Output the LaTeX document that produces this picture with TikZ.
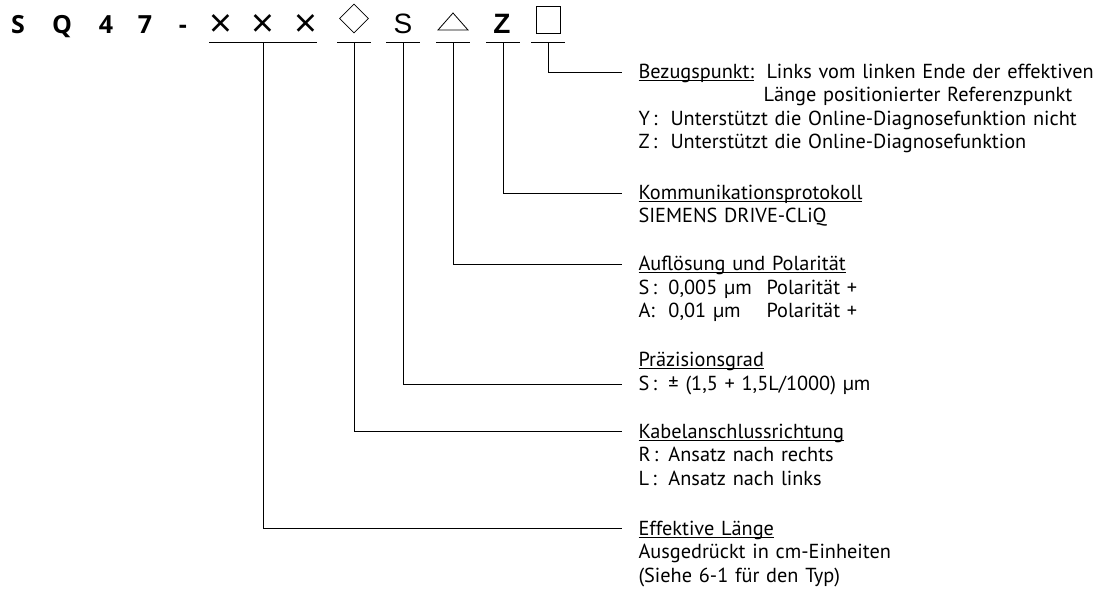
\documentclass[tikz,border=0pt]{standalone}
\usepackage{fontspec}
\usetikzlibrary{shapes.geometric}
\setmainfont{PT Sans}
\newfontfamily\codefont{Open Sans}
\newfontfamily\symfont{Liberation Sans}
% underline that runs through the descenders
\newcommand\ulin[1]{\setbox0\hbox{#1}\rlap{\rule[-2.4pt]{\wd0}{0.9pt}}\box0}

\begin{document}
\begin{tikzpicture}[x=1pt, y=-1pt, line width=1pt,
  code/.style={inner sep=0, anchor=base, font=\codefont\bfseries\fontsize{25}{25}\selectfont},
  sym/.style={inner sep=0, anchor=base, font=\symfont\fontsize{28}{28}\selectfont},
  desc/.style={inner sep=0, anchor=base west, text width=460pt, align=left, font=\fontsize{20.3}{23.5}\selectfont}]

  \useasboundingbox (0,0) rectangle (1099,590);

  % Type code
  \node[code] (cS) at (18,33) {S};
  \node[code] (cQ) at (62,33) {Q};
  \node[code] (c4) at (106,33) {4};
  \node[code] (c7) at (145,33) {7};
  \node[code] (cdash) at (183,33) {-};
  \foreach \n/\x in {x1/221, x2/263, x3/306}
    \node[code, anchor=center, font=\codefont\fontsize{40}{40}\selectfont] (\n) at (\x,26.5) {×};
  \node[draw, diamond, line width=0.8pt, inner sep=0, minimum width=29pt, minimum height=29pt] (dia) at (354,18.5) {};
  \node[sym] (sS) at (403,33) {S};
  \draw[line width=0.8pt] (438,30) -- (453,13) -- (468,30) -- cycle;
  \node[sym, font=\symfont\bfseries\fontsize{28}{28}\selectfont] (sZ) at (502,33) {Z};
  \node[draw, line width=0.8pt, inner sep=0, minimum width=24pt, minimum height=27pt] (sq) at (548,20) {};

  % underlines, one per field
  \foreach \n/\x/\w in {len/263/54, dir/354/17, acc/403/17, res/453/17, pro/503/17, ref/548/17}
  {
    \coordinate (\n) at (\x,42);
    \draw (\x-\w,42) -- (\x+\w,42);
  }

  % Descriptions
  \node[desc] (tref) at (638,78.3) {\makebox[128pt][l]{\ulin{Bezugspunkt:}}Links vom linken Ende der effektiven\\
    \hspace*{125pt}Länge positionierter Referenzpunkt\\
    \makebox[32pt][l]{Y\,:}Unterstützt die Online-Diagnosefunktion nicht\\
    \makebox[32pt][l]{Z\,:}Unterstützt die Online-Diagnosefunktion};
  \node[desc] (tpro) at (638,199.3) {\ulin{Kommunikationsprotokoll}\\
    SIEMENS DRIVE-CLiQ};
  \node[desc] (tres) at (638,270.7) {\ulin{Auflösung und Polarität}\\
    \makebox[30pt][l]{S\,:}\makebox[98pt][l]{0,005 µm}Polarität +\\
    \makebox[30pt][l]{A:}\makebox[98pt][l]{0,01 µm}Polarität +};
  \node[desc] (tacc) at (638,366.7) {\ulin{Präzisionsgrad}\\
    \makebox[30pt][l]{S\,:}± (1,5 + 1,5L/1000) µm};
  \node[desc] (tdir) at (638,438.3) {\ulin{Kabelanschlussrichtung}\\
    \makebox[30pt][l]{R\,:}Ansatz nach rechts\\
    \makebox[30pt][l]{L\,:}Ansatz nach links};
  \node[desc] (tlen) at (638,535) {\ulin{Effektive Länge}\\
    Ausgedrückt in cm-Einheiten\\
    (Siehe 6-1 für den Typ)};

  % leader ends
  \coordinate (eref) at (622,72.5);
  \coordinate (epro) at (622,193);
  \coordinate (eres) at (622,264);
  \coordinate (eacc) at (622,384);
  \coordinate (edir) at (622,431);
  \coordinate (elen) at (622,528.5);

  % Leaders
  \draw (ref) |- (eref);
  \draw (pro) |- (epro);
  \draw (res) |- (eres);
  \draw (acc) |- (eacc);
  \draw (dir) |- (edir);
  \draw (len) |- (elen);

\end{tikzpicture}
\end{document}
